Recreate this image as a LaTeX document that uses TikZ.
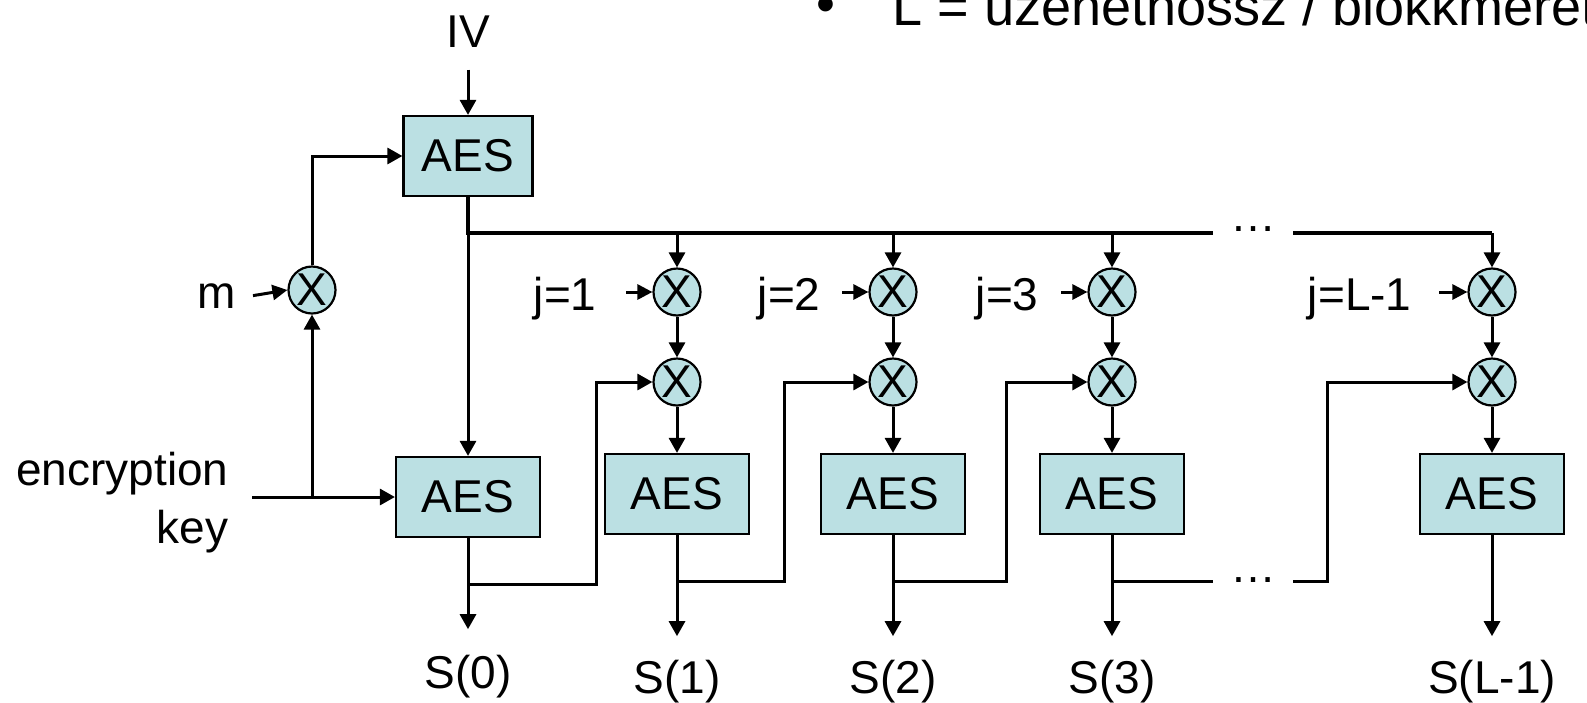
\documentclass[tikz,border=0pt]{standalone}
\usepackage{fontspec}
\setmainfont{Liberation Sans}
\usetikzlibrary{arrows.meta}
\definecolor{boxfill}{HTML}{BBE0E3}
\begin{document}
\begin{tikzpicture}[x=1pt,y=-1pt, line width=3pt,
  font=\fontsize{46}{56}\selectfont,
  arr/.style={-{Triangle[length=15pt,width=16pt]}},
  sarr/.style={-{Triangle[length=15pt,width=15pt]}},
  bus/.style={line width=3.8pt},
  aes/.style={draw, line width=2.2pt, fill=boxfill, minimum width=144pt, minimum height=80pt, inner sep=0pt},
  xor/.style={draw, line width=2.2pt, circle, fill=boxfill, minimum size=47pt, inner sep=0pt},
  lbl/.style={inner sep=0pt}]
\useasboundingbox (0,0) rectangle (1587,702);

% top bullet text (clipped at the page top, as in the reference)
\node[lbl, anchor=base, font=\fontsize{54}{60}\selectfont] (bul) at (826,22) {•};
\node[lbl, anchor=base west, font=\fontsize{54}{60}\selectfont] (title) at (891,25) {L = üzenethossz / blokkméret};

% AES boxes
\node[aes, minimum width=129pt] (aesT) at (468,156) {AES};
\node[aes] (aes0) at (468,497) {AES};
\node[aes] (aes1) at (677,494) {AES};
\node[aes] (aes2) at (893,494) {AES};
\node[aes] (aes3) at (1112,494) {AES};
\node[aes] (aesL) at (1492,494) {AES};

% XOR circles
\node[xor] (xm) at (312,290) {X};
\node[xor] (xa1) at (677,292) {X};
\node[xor] (xb1) at (677,382) {X};
\node[xor] (xa2) at (893,292) {X};
\node[xor] (xb2) at (893,382) {X};
\node[xor] (xa3) at (1112,292) {X};
\node[xor] (xb3) at (1112,382) {X};
\node[xor] (xaL) at (1492,292) {X};
\node[xor] (xbL) at (1492,382) {X};

% labels
\node[lbl, anchor=base] (iv) at (468,47) {IV};
\node[lbl, anchor=base east] (m) at (237,308) {m};
\node[lbl, anchor=base east] (enc) at (230,485) {encryption};
\node[lbl, anchor=base east] (key) at (230,543) {key};
\node[lbl, anchor=base east] (j1) at (598,310) {j=1};
\node[lbl, anchor=base east] (j2) at (822,310) {j=2};
\node[lbl, anchor=base east] (j3) at (1040,310) {j=3};
\node[lbl, anchor=base east] (jL) at (1413,310) {j=L-1};
\node[lbl, anchor=base] (s0) at (468,688) {S(0)};
\node[lbl, anchor=base] (s1) at (677,693) {S(1)};
\node[lbl, anchor=base] (s2) at (893,693) {S(2)};
\node[lbl, anchor=base] (s3) at (1112,693) {S(3)};
\node[lbl, anchor=base] (sL) at (1492,693) {S(L-1)};
\node[lbl, anchor=base] (dotsT) at (1253,231) {…};
\node[lbl, anchor=base] (dotsB) at (1253,582) {…};

% coordinates
\coordinate (k0) at (252,497);
\coordinate (kj) at (312,497);
\coordinate (bus0) at (468,233);
\coordinate (bg1) at (1213,233);
\coordinate (bg2) at (1293,233);
\coordinate (b0) at (468,584);
\coordinate (c1) at (596,382);
\coordinate (b1) at (677,581);
\coordinate (c2) at (784,382);
\coordinate (b2) at (893,581);
\coordinate (c3) at (1006,382);
\coordinate (b3) at (1112,581);
\coordinate (g1) at (1213,581);
\coordinate (g2) at (1293,581);
\coordinate (cL) at (1327,382);

% IV and m paths
\draw[arr] ([yshift=-21pt]iv.south) -- (aesT.north);
\draw[sarr] ([xshift=16pt]m.east) -- (xm.west);
\draw[arr] (xm.north) |- (aesT.west);
\draw[arr] (k0) -- (aes0.west);
\draw[arr] (kj) -- (xm.south);

% bus
\draw[bus] (aesT.south) -- (bus0) -- (bg1);
\draw[bus] (bg2) -- (xaL |- bg2);
\draw[arr] (bus0) -- (aes0.north);
\draw[arr] (xa1 |- bus0) -- (xa1.north);
\draw[arr] (xa2 |- bus0) -- (xa2.north);
\draw[arr] (xa3 |- bus0) -- (xa3.north);
\draw[arr] (xaL |- bg2) -- (xaL.north);

% j inputs
\draw[sarr] ([xshift=-26pt]xa1.west) -- (xa1.west);
\draw[sarr] ([xshift=-26pt]xa2.west) -- (xa2.west);
\draw[sarr] ([xshift=-26pt]xa3.west) -- (xa3.west);
\draw[sarr] ([xshift=-28pt]xaL.west) -- (xaL.west);

% vertical chains
\foreach \i in {1,2,3,L}{
  \draw[arr] (xa\i.south) -- (xb\i.north);
  \draw[arr] (xb\i.south) -- (aes\i.north);
}

% outputs
\draw[arr] (aes0.south) -- ([yshift=24pt]s0.north);
\draw[arr] (aes1.south) -- ([yshift=22pt]s1.north);
\draw[arr] (aes2.south) -- ([yshift=22pt]s2.north);
\draw[arr] (aes3.south) -- ([yshift=22pt]s3.north);
\draw[arr] (aesL.south) -- ([yshift=22pt]sL.north);

% feedback loops
\draw[arr] (b0) -| (c1) -- (xb1.west);
\draw[arr] (b1) -| (c2) -- (xb2.west);
\draw[arr] (b2) -| (c3) -- (xb3.west);
\draw (b3) -- (g1);
\draw[arr] (g2) -| (cL) -- (xbL.west);
\end{tikzpicture}
\end{document}
